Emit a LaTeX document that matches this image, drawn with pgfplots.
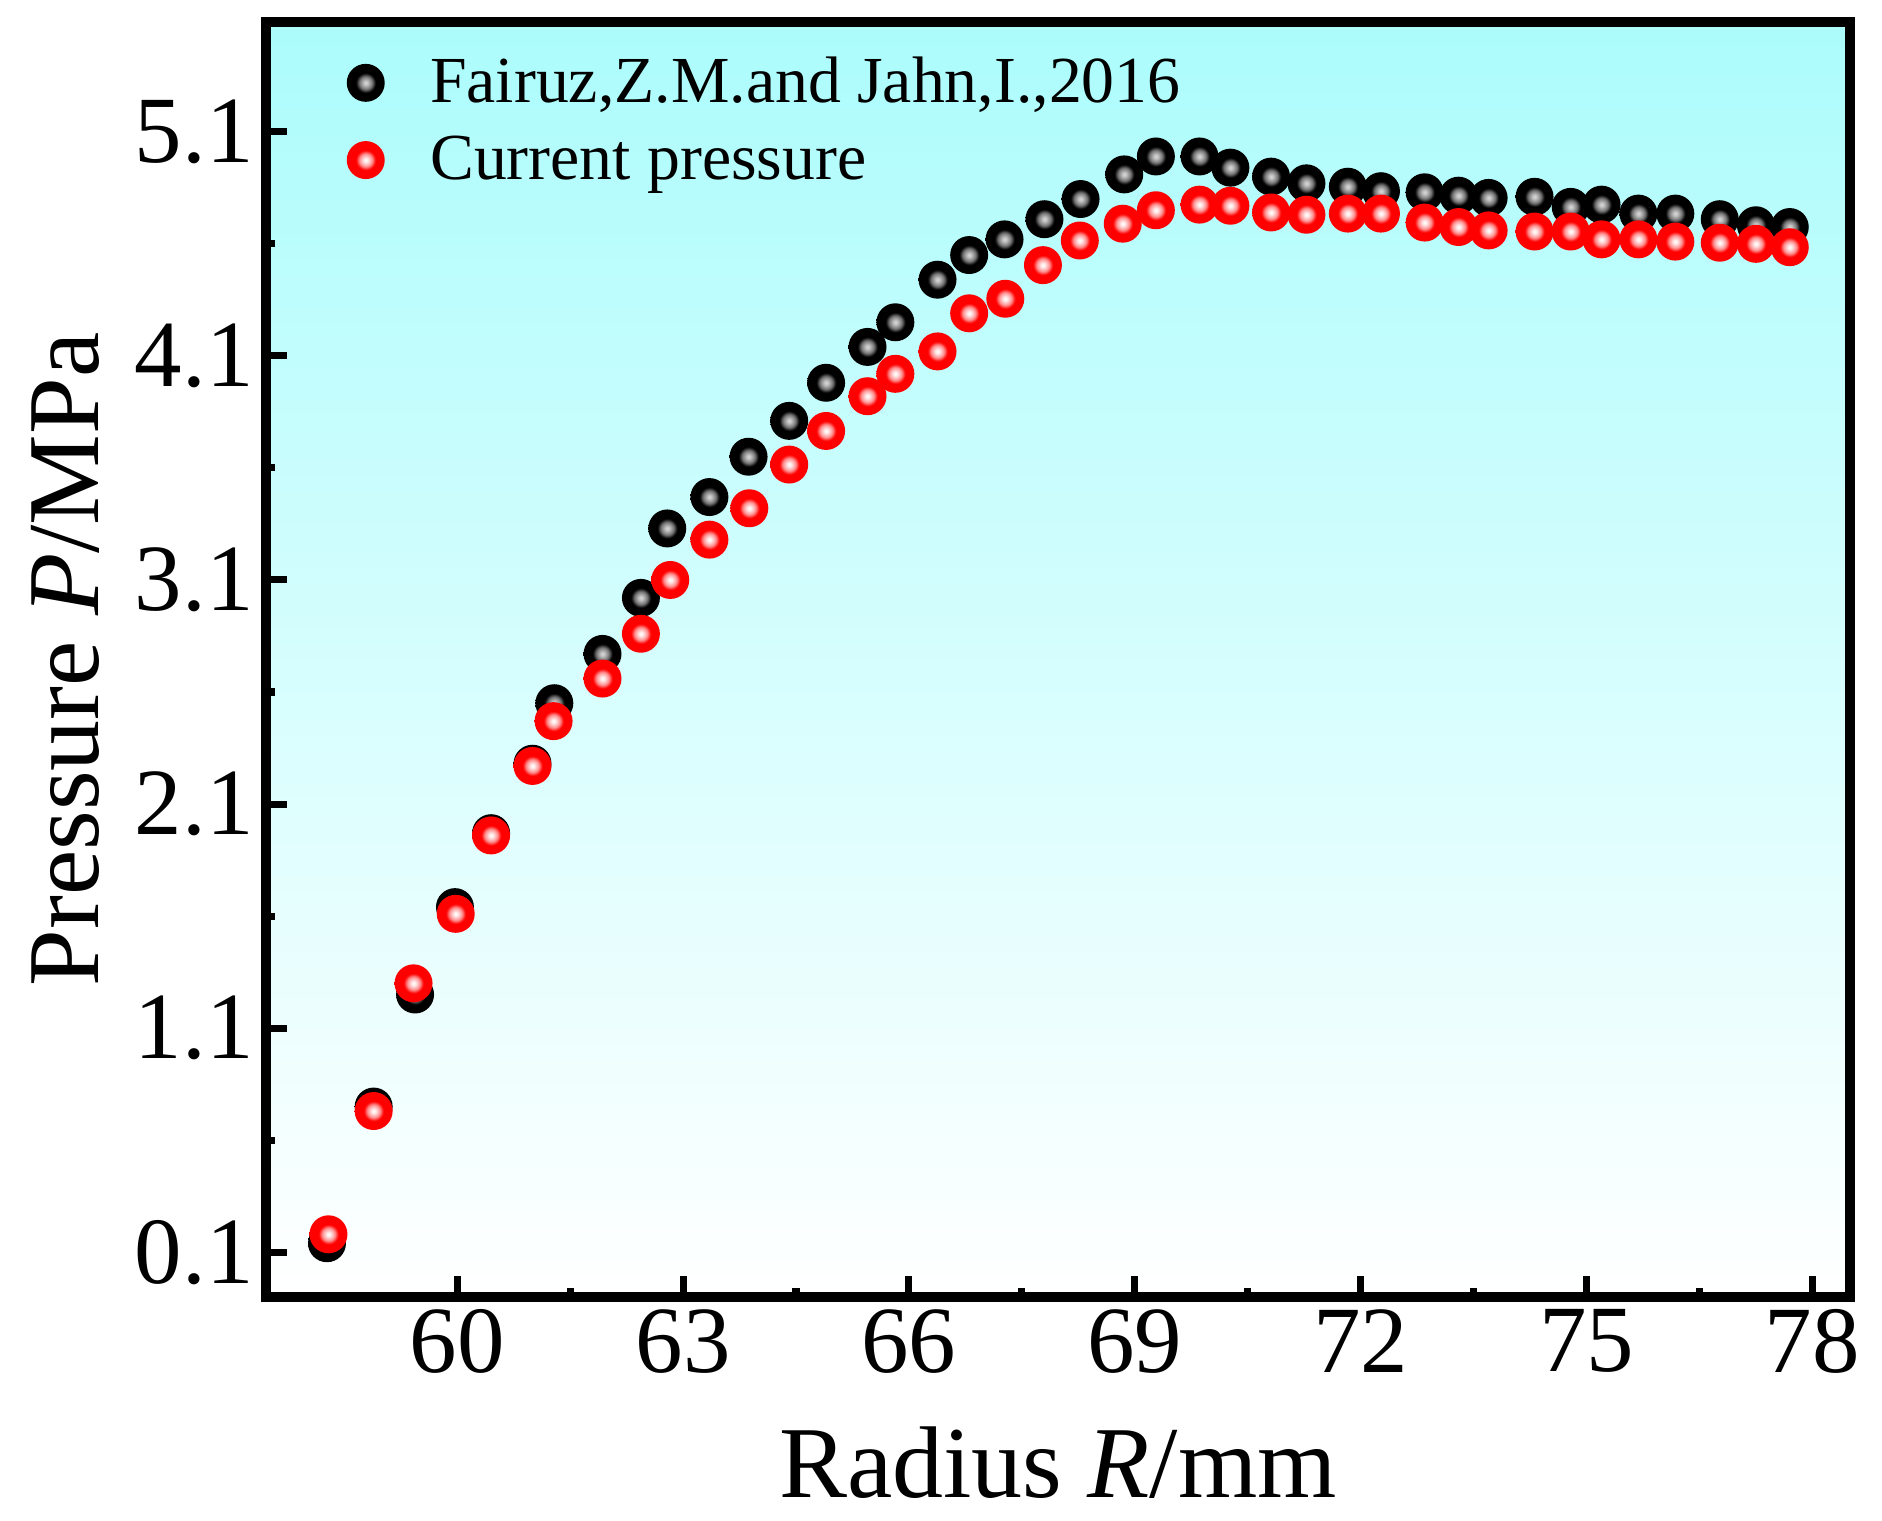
\documentclass[border=0pt]{standalone}
\usepackage{fontspec}
\setmainfont{Liberation Serif}
\usepackage{pgfplots}
\pgfplotsset{compat=1.18}
\pgfdeclareradialshading{redball}{\pgfpointorigin}{color(0bp)=(white); color(3bp)=(white!90!red); color(8.5bp)=(red!45!white); color(13bp)=(red); color(25bp)=(red); color(50bp)=(red)}
\pgfdeclareradialshading{blackball}{\pgfpointorigin}{color(0bp)=(white!85!black); color(3bp)=(white!75!black); color(8.5bp)=(black!55); color(13bp)=(black); color(25bp)=(black); color(50bp)=(black)}
\pgfdeclareplotmark{redball}{\pgfpathcircle{\pgfpointorigin}{\pgfplotmarksize}\pgfshadepath{redball}{0}\pgfusepath{}}
\pgfdeclareplotmark{blackball}{\pgfpathcircle{\pgfpointorigin}{\pgfplotmarksize}\pgfshadepath{blackball}{0}\pgfusepath{}}
\definecolor{bgtop}{RGB}{172,252,252}
\begin{document}
\begin{tikzpicture}
\begin{axis}[
  scale only axis, width=15.84cm, height=12.75cm,
  xmin=57.46, xmax=78.5, ymin=-0.1, ymax=5.59,
  xtick={60,63,66,69,72,75,78}, xticklabels={60,63,66,69,72,75,78},
  ytick={0.1,1.1,2.1,3.1,4.1,5.1}, yticklabels={0.1,1.1,2.1,3.1,4.1,5.1},
  minor x tick num=1, minor y tick num=1,
  tick pos=left, tick align=inside,
  major tick length=0.21cm, minor tick length=0.09cm,
  every tick/.style={black, line width=2pt},
  axis line style={line width=2.6pt},
  axis background/.style={top color=bgtop, bottom color=white},
  ticklabel style={font=\fontsize{27}{32}\selectfont},
  label style={font=\fontsize{29}{34}\selectfont},
  xlabel={Radius \textit{R}/mm}, ylabel={Pressure \textit{P}/MPa},
  xlabel style={at={(axis description cs:0.5,-0.157)}, anchor=base},
  ylabel style={at={(axis description cs:-0.106,0.5)}, anchor=base},
  legend style={at={(axis description cs:0.051,0.975)}, anchor=north west, draw=none, fill=none,
    inner sep=0pt, outer sep=0pt, row sep=5.8pt, column sep=0.42cm, nodes={inner sep=1pt},
    font=\fontsize{18.7}{22}\selectfont},
  legend cell align=left,
  mark size=5.4pt,
]
\addplot[only marks, mark=blackball] coordinates {
(58.27,0.14) (58.89,0.75) (59.44,1.25) (59.97,1.64) (60.45,1.97)
(61.00,2.28) (61.29,2.55) (61.93,2.77) (62.44,3.02) (62.79,3.33)
(63.35,3.47) (63.87,3.65) (64.41,3.81) (64.90,3.98) (65.45,4.14)
(65.82,4.25) (66.38,4.44) (66.80,4.55) (67.27,4.62) (67.80,4.71)
(68.28,4.80) (68.86,4.91) (69.28,4.99) (69.86,4.99) (70.27,4.94)
(70.81,4.90) (71.28,4.87) (71.83,4.855) (72.27,4.835) (72.85,4.83)
(73.30,4.815) (73.70,4.805) (74.31,4.81) (74.79,4.765) (75.20,4.775)
(75.69,4.735) (76.18,4.735) (76.77,4.71) (77.25,4.683) (77.70,4.675)
};
\addlegendentry{Fairuz,Z.M.and Jahn,I.,2016}
\addplot[only marks, mark=redball] coordinates {
(58.29,0.18) (58.89,0.73) (59.42,1.30) (59.98,1.61) (60.45,1.96)
(61.00,2.27) (61.28,2.47) (61.93,2.66) (62.44,2.86) (62.83,3.10)
(63.35,3.28) (63.88,3.42) (64.41,3.615) (64.90,3.765) (65.45,3.92)
(65.82,4.02) (66.38,4.12) (66.80,4.29) (67.28,4.355) (67.78,4.505)
(68.27,4.615) (68.84,4.69) (69.28,4.75) (69.86,4.775) (70.27,4.77)
(70.81,4.74) (71.28,4.73) (71.83,4.735) (72.27,4.735) (72.85,4.695)
(73.30,4.675) (73.70,4.66) (74.31,4.655) (74.79,4.655) (75.20,4.62)
(75.69,4.62) (76.18,4.61) (76.77,4.605) (77.25,4.60) (77.70,4.585)
};
\addlegendentry{Current pressure}
\end{axis}
\pgfresetboundingbox
\path[use as bounding box] (-2.66cm,-2.23cm) rectangle (16.16cm,12.97cm);
\end{tikzpicture}
\end{document}
